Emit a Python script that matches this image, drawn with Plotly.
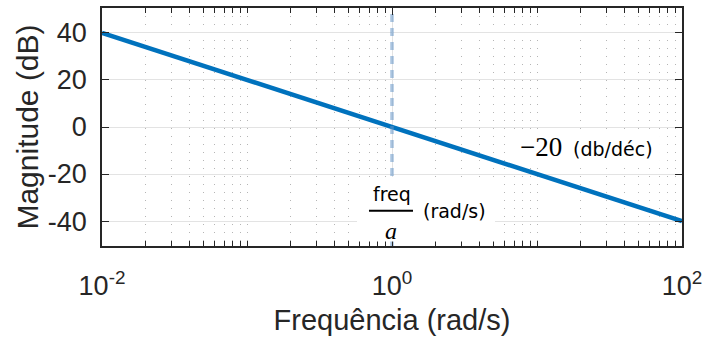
import plotly.graph_objects as go

# Asymptotic magnitude of an integrator-like response: -20 dB per decade
freq = [1e-2, 1e-1, 1e0, 1e1, 1e2]
mag_db = [40, 20, 0, -20, -40]
corner_freq = 1.0

x_major = [1e-2, 1e0, 1e2]
x_major_text = ["10<sup>-2</sup>", "10<sup>0</sup>", "10<sup>2</sup>"]
x_minor = [m * 10.0 ** e for e in (-2, -1, 0, 1) for m in range(2, 10)] + [1e-1, 1e1]
y_ticks = [-40, -20, 0, 20, 40]
y_tick_text = ["-40", "-20", "0", "20", "40"]
y_range = [-50.6, 50.6]

INK = "#262626"
SANS = "Liberation Sans, Arial, Helvetica, sans-serif"
MATH_SANS = "DejaVu Sans, sans-serif"
MATH_SERIF = "Liberation Serif, DejaVu Serif, serif"

fig = go.Figure()

fig.add_trace(go.Scatter(
    x=freq, y=mag_db, mode="lines",
    line=dict(color="#0072BD", width=4.5),
    hoverinfo="skip", showlegend=False,
))

# marker for the corner frequency
fig.add_trace(go.Scatter(
    x=[corner_freq, corner_freq], y=y_range, mode="lines",
    line=dict(color="rgba(100,150,200,0.55)", width=3.5, dash="8px,6px"),
    hoverinfo="skip", showlegend=False,
))

fig.update_xaxes(
    type="log", range=[-2, 2], automargin=False,
    tickmode="array", tickvals=x_major, ticktext=x_major_text,
    ticks="inside", ticklen=7, tickwidth=1.2, tickcolor=INK,
    ticklabelstandoff=15, ticklabeloverflow="allow",
    showline=True, linecolor=INK, linewidth=1.5, mirror="ticks",
    showgrid=True, gridcolor="#e3e3e3", gridwidth=1,
    tickfont=dict(family=SANS, size=27, color=INK),
    title=dict(text="Frequência (rad/s)", standoff=10,
               font=dict(family=SANS, size=29, color=INK)),
    minor=dict(tickvals=x_minor, ticks="inside", ticklen=5, tickwidth=1.2,
               tickcolor=INK, showgrid=True, gridcolor="#b5b5b5",
               griddash="1px,7px", gridwidth=1),
    zeroline=False,
)
fig.update_yaxes(
    range=y_range, automargin=False,
    tickmode="array", tickvals=y_ticks, ticktext=y_tick_text,
    ticks="inside", ticklen=7, tickwidth=1.2, tickcolor=INK,
    ticklabelstandoff=8, ticklabeloverflow="allow",
    showline=True, linecolor=INK, linewidth=1.5, mirror="ticks",
    showgrid=True, gridcolor="#e3e3e3", gridwidth=1,
    tickfont=dict(family=SANS, size=27, color=INK),
    title=dict(text="Magnitude (dB)", standoff=0,
               font=dict(family=SANS, size=30, color=INK)),
    zeroline=False,
)

shapes = [
    # white panels behind the text labels
    dict(type="rect", xref="paper", yref="paper", x0=0.4397, x1=0.6776, y0=0.019, y1=0.29,
         fillcolor="white", line=dict(width=0), layer="above"),
    dict(type="rect", xref="paper", yref="paper", x0=0.7103, x1=0.962, y0=0.353, y1=0.475,
         fillcolor="white", line=dict(width=0), layer="above"),
    # fraction bar of freq / a
    dict(type="line", xref="paper", yref="paper", x0=0.4603, x1=0.5362, y0=0.1483, y1=0.1483,
         line=dict(color="black", width=2), layer="above"),
]

annotations = [
    dict(text="freq", x=0.5, y=0.2185, font=dict(family=MATH_SANS, size=19, color="black")),
    dict(text="<i>a</i>", x=0.4983, y=0.063, font=dict(family=MATH_SERIF, size=24, color="black")),
    dict(text="(rad/s)", x=0.6069, y=0.147, font=dict(family=MATH_SANS, size=19, color="black")),
    dict(text="−20", x=0.757, y=0.416, font=dict(family=MATH_SERIF, size=27, color="black")),
    dict(text="(db/déc)", x=0.881, y=0.4076, font=dict(family=MATH_SANS, size=19, color="black")),
]
for a in annotations:
    a.update(xref="paper", yref="paper", xanchor="center", yanchor="middle", showarrow=False)

fig.update_layout(
    width=702, height=340,
    margin=dict(l=102, r=20, t=8, b=94),
    paper_bgcolor="white", plot_bgcolor="white",
    shapes=shapes, annotations=annotations,
    showlegend=False,
)

fig.write_html("out.html")
